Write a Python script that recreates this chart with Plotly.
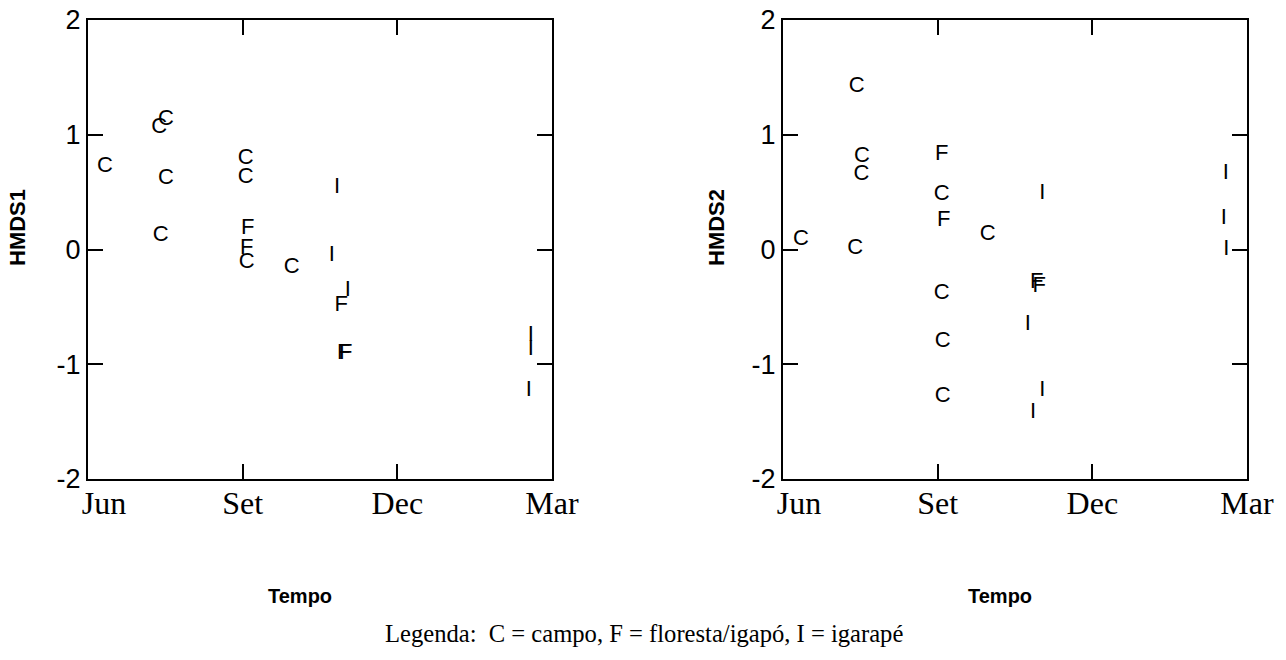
import plotly.graph_objects as go

# ---- data (months since June; Jun=0, Set=3, Dec=6, Mar=9) ----
site1 = ["C", "C", "C", "C", "C", "C", "C", "F", "F", "C", "C",
         "I", "I", "I", "F", "F", "F", "I", "I", "I"]
mes1 = [0.33, 1.38, 1.51, 1.51, 1.41, 3.06, 3.06, 3.10, 3.08, 3.08, 3.95,
        4.83, 4.73, 5.04, 4.91, 4.96, 5.00, 8.59, 8.59, 8.55]
hmds1 = [0.72, 1.06, 1.13, 0.62, 0.12, 0.79, 0.63, 0.18, 0.01, -0.11, -0.16,
         0.54, -0.05, -0.36, -0.49, -0.91, -0.91, -0.75, -0.87, -1.23]

site2 = ["C", "C", "C", "C", "C", "F", "C", "F", "C", "C", "C", "C",
         "I", "F", "F", "I", "I", "I", "I", "I", "I"]
mes2 = [1.43, 1.53, 1.52, 0.35, 1.40, 3.08, 3.08, 3.12, 3.97, 3.08, 3.10, 3.10,
        5.03, 4.92, 4.97, 4.75, 5.03, 4.85, 8.59, 8.55, 8.60]
hmds2 = [1.42, 0.81, 0.65, 0.09, 0.01, 0.83, 0.48, 0.25, 0.13, -0.38, -0.80, -1.28,
         0.49, -0.29, -0.32, -0.65, -1.23, -1.42, 0.66, 0.27, 0.00]

x_tickvals = [0, 3, 6, 9]
x_ticktext = ["\u2007\u2007Jun", "Set", "Dec", "Mar"]
y_tickvals = [-2, -1, 0, 1, 2]
y_ticktext = ["-2", "-1", "0", "1", "2"]

legend_text = "Legenda:  C = campo, F = floresta/igapó, I = igarapé"

# page body has an 8px margin; figure is sized to fit the window
OFF = 8
W, H = 1286 - OFF, 660 - OFF


def px(xp):
    return (xp - OFF) / W


def py(yp):
    return 1 - (yp - OFF) / H


mark_font = dict(family="Liberation Sans, Arial", size=22, color="black")

fig = go.Figure()
fig.add_trace(go.Scatter(x=mes1, y=hmds1, text=site1, mode="text",
                         textposition="middle center", textfont=mark_font,
                         xaxis="x", yaxis="y", showlegend=False, hoverinfo="skip"))
fig.add_trace(go.Scatter(x=mes2, y=hmds2, text=site2, mode="text",
                         textposition="middle center", textfont=mark_font,
                         xaxis="x2", yaxis="y2", showlegend=False, hoverinfo="skip"))

common_x = dict(range=[0, 9], tickvals=x_tickvals, ticktext=x_ticktext,
                ticks="inside", ticklen=15, tickwidth=2, tickcolor="black",
                showline=True, linewidth=2, linecolor="black", mirror="ticks",
                showgrid=False, zeroline=False, automargin=False,
                ticklabeloverflow="allow", ticklabelstandoff=-5,
                tickfont=dict(family="Liberation Serif, Times New Roman", size=32, color="black"))
common_y = dict(range=[-2, 2], tickvals=y_tickvals, ticktext=y_ticktext,
                ticks="inside", ticklen=15, tickwidth=2, tickcolor="black",
                showline=True, linewidth=2, linecolor="black", mirror="ticks",
                showgrid=False, zeroline=False, automargin=False,
                ticklabeloverflow="allow",
                tickfont=dict(family="Liberation Sans, Arial", size=27, color="black"))

fig.update_layout(
    width=W, height=H,
    margin=dict(l=0, r=0, t=0, b=0, autoexpand=False),
    paper_bgcolor="white", plot_bgcolor="white",
    xaxis=dict(domain=[px(88), px(552)], anchor="y", **common_x),
    yaxis=dict(domain=[py(479), py(20)], anchor="x", **common_y),
    xaxis2=dict(domain=[px(783), px(1247)], anchor="y2", **common_x),
    yaxis2=dict(domain=[py(479), py(20)], anchor="x2", **common_y),
)

title_font = dict(family="Liberation Sans, Arial", size=22, color="black")
ann = [
    dict(text="<b>HMDS1</b>", x=px(17), y=py(228), textangle=-90, font=title_font),
    dict(text="<b>HMDS2</b>", x=px(716), y=py(228), textangle=-90, font=title_font),
    dict(text="<b>Tempo</b>", x=px(300), y=py(596), font=dict(title_font, size=20)),
    dict(text="<b>Tempo</b>", x=px(1000), y=py(596), font=dict(title_font, size=20)),
    dict(text=legend_text, x=px(644), y=py(633),
         font=dict(family="Liberation Serif, Times New Roman", size=24.6, color="black")),
]
for a in ann:
    a.update(xref="paper", yref="paper", showarrow=False, xanchor="center", yanchor="middle")
fig.update_layout(annotations=ann)

fig.write_html("out.html")
